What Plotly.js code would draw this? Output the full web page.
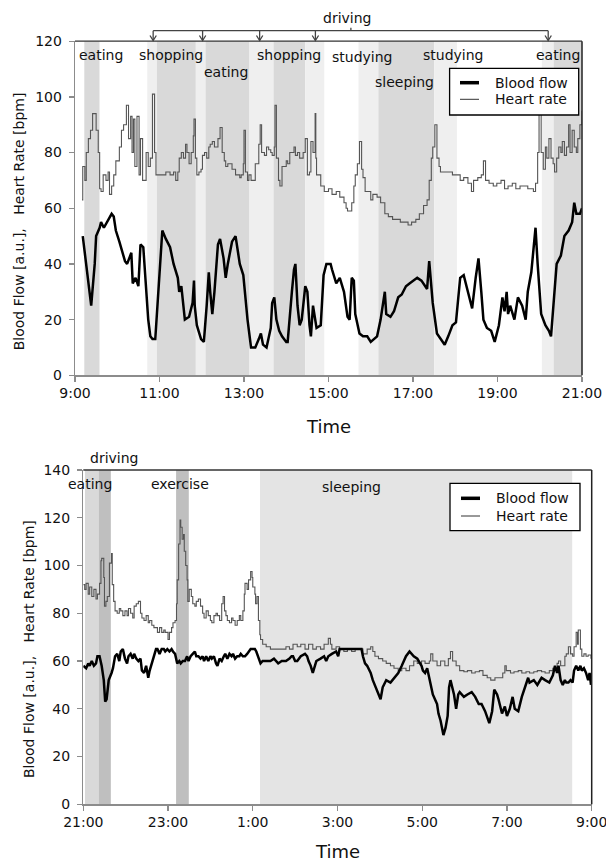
<!DOCTYPE html>
<html><head><meta charset="utf-8">
<script src="https://cdn.plot.ly/plotly-3.0.1.min.js"></script>
<style>html,body{margin:0;padding:0;background:#fff}#chart{width:606px;height:863px}</style>
</head><body><div id="chart"></div>
<script>
// ---------- DATA ----------
// Top chart (day, 9:00-21:00): minutes after 9:00
const bfTopMin = [11,23,28,30,35,37,41,47,52,55,58,63,68,71,74,80,82,86,90,93,97,101,104,107,110,114,118,124,129,135,140,146,148,151,156,162,167,169,170,173,179,183,187,190,192,195,198,203,206,211,214,217,223,228,231,234,239,245,250,256,261,264,267,272,278,280,283,286,290,294,300,302,308,311,313,316,319,322,327,330,333,335,338,341,343,349,353,357,363,365,371,376,382,387,390,393,396,398,404,409,415,420,429,434,440,442,448,453,459,464,470,475,481,486,492,497,500,503,506,508,514,519,525,530,536,541,547,552,558,561,564,569,573,577,580,585,591,596,602,607,610,613,615,618,624,629,635,640,643,648,654,657,662,668,673,676,679,684,690,695,701,706,709,712,717,720];
const bfTopVal = [50,25,40,50,53,55,53,56,58,57,52,48,44,41,40,44,33,35,32,47,46,30,20,14,13,13,30,52,49,46,40,35,30,32,20,21,26,34,25,18,13,12,25,37,30,22,30,47,49,42,35,40,48,50,45,40,36,20,10,10,13,15,11,10,17,26,28,20,16,14,12,12,30,38,40,25,18,20,32,30,18,14,25,20,17,18,36,40,40,38,33,35,30,21,20,35,34,22,15,14,14,12,14,20,30,22,21,23,28,29,32,33,34,35,34,32,31,41,30,26,15,13,11,14,18,19,35,36,30,26,24,35,42,30,20,17,16,12,18,28,23,30,22,25,20,28,25,20,30,37,53,40,22,18,16,14,25,40,43,50,52,55,62,58,58,60];
const hrTopMin = [10,11,14,16,19,22,25,27,30,33,35,37,40,44,47,49,52,55,58,63,66,69,73,76,79,81,83,85,88,91,93,96,101,104,107,110,113,115,118,124,129,135,140,143,146,148,151,154,157,159,162,165,168,169,171,173,176,179,181,184,187,190,192,195,198,201,203,206,209,212,214,217,223,228,234,236,239,240,242,245,247,250,256,261,263,265,269,272,275,278,280,283,284,286,289,291,294,300,302,305,308,311,313,316,319,324,327,330,333,335,338,341,342,343,349,354,360,365,371,376,382,385,387,390,393,396,398,401,404,407,409,412,415,420,423,429,434,440,445,451,456,462,467,473,478,484,489,495,500,503,506,508,511,514,517,519,525,530,536,541,547,552,558,563,566,572,577,580,583,588,594,599,605,610,615,621,626,632,637,643,648,651,654,657,659,662,665,668,670,673,676,679,681,684,687,690,692,695,698,701,703,706,709,712,714,717,720];
const hrTopVal = [63,75,70,80,85,88,94,94,88,80,67,66,72,70,73,65,68,72,77,82,88,90,97,85,93,80,92,75,93,72,85,70,80,75,78,101,80,72,72,72,73,72,73,70,73,78,80,78,83,80,76,80,86,92,78,72,73,74,79,80,78,82,83,84,82,82,85,89,80,77,75,76,74,72,71,72,76,88,73,70,72,70,76,83,90,80,79,82,81,80,79,82,97,78,70,68,75,77,76,80,80,82,79,80,78,80,85,72,73,84,80,94,78,72,68,66,67,65,66,64,62,60,59,59,62,68,72,76,84,74,71,66,66,63,65,64,62,58,57,56,56,55,55,54,55,56,58,61,63,70,78,82,90,78,75,73,73,73,72,72,70,71,69,66,70,71,72,77,70,69,68,69,70,67,68,69,67,68,68,67,67,66,69,80,96,80,74,82,78,85,78,76,73,78,82,80,84,79,82,90,80,88,82,80,85,90,95];

// Bottom chart (night, 21:00-9:00): minutes after 21:00
const bfBotMin = [0,4,7,9,12,15,18,20,23,26,29,31,33,36,40,42,45,48,51,53,56,59,62,64,67,70,72,75,78,81,83,86,89,92,94,97,100,103,105,108,111,114,116,119,122,125,127,130,133,136,138,141,144,147,149,152,155,158,160,163,166,169,171,174,177,180,182,185,188,190,193,196,199,201,204,207,210,212,215,218,221,223,226,229,232,234,237,240,243,245,248,251,254,259,265,270,276,281,287,292,295,297,300,303,308,314,317,319,322,325,328,330,336,341,344,347,352,358,361,363,369,374,380,385,391,394,396,399,402,405,407,410,413,415,421,424,429,435,440,446,451,457,462,468,473,479,481,484,487,490,492,495,498,501,503,506,510,513,516,518,520,523,525,528,531,533,539,544,550,555,560,564,569,575,579,582,586,588,593,597,600,604,608,611,616,621,627,630,632,638,643,649,654,660,665,668,671,673,676,679,682,684,687,690,693,695,698,701,704,706,709,712,715,717,719];
const bfBotVal = [58,57,59,58,60,58,59,62,62,58,52,43,44,52,55,57,62,63,60,64,65,61,59,62,63,61,63,61,60,61,56,55,58,53,56,59,62,65,65,63,65,65,64,65,64,65,64,63,59,60,59,60,60,62,60,62,63,64,62,62,61,62,60,62,60,62,61,62,59,58,61,60,62,63,61,63,62,63,61,62,62,63,62,62,63,64,65,65,65,64,61,59,60,60,60,61,59,60,60,61,62,62,60,60,62,63,62,60,58,55,58,60,61,62,60,62,63,64,62,65,65,65,65,65,65,65,62,59,58,56,55,52,50,48,44,49,52,51,53,55,58,62,64,62,61,58,56,55,57,53,50,46,44,42,38,35,29,32,37,49,52,48,46,40,46,47,45,46,47,45,42,42,39,34,39,48,46,44,38,41,37,40,45,40,39,45,51,53,51,52,50,53,52,51,54,58,55,58,52,50,52,51,51,52,51,56,58,56,58,56,57,55,52,55,50];
const hrBotMin = [0,2,4,7,9,12,15,18,20,23,25,26,29,30,32,34,37,40,41,43,45,48,51,53,56,59,62,64,67,70,72,75,78,81,83,86,89,92,94,97,100,103,105,108,111,114,116,120,122,125,127,130,132,133,135,137,138,140,142,143,145,147,148,150,153,155,158,160,163,166,169,171,174,177,180,182,185,188,190,193,196,198,200,202,204,207,210,212,215,218,221,223,226,228,229,232,234,237,239,240,243,244,246,248,250,251,254,259,265,270,276,281,287,292,297,303,308,314,319,325,330,336,341,347,350,352,358,363,369,374,380,385,391,396,402,407,410,413,418,424,429,435,440,446,451,457,462,468,473,479,484,490,492,495,501,506,512,517,520,523,528,533,539,544,550,555,561,566,572,577,583,588,594,597,599,605,610,616,621,627,632,638,643,649,654,660,665,671,673,676,679,682,684,687,690,693,695,698,700,701,704,706,709,712,715,719];
const hrBotVal = [92,90,92.5,88,91,87,90,86,88,92.5,102,103,95,83,85,87,101,105,92,85,81,80,82,81,79,81,79,82,80,78,83,84,85,80,78,77,79,76,77,75,74,74,72,74,72,73,72,69,72,74,76,77,84,94,109,119,116,111,113,106,100,94,85,90,87,84,83,85,86,83,80,78,81,79,77,76,79,80,79,77,84,87,81,79,77,76,78,77,75,77,79,77,81,88,92.5,90,94,97.5,95,91,88,84,87,77,71,69,67,66,65,65,65,65,66,65,67,66,67,65,67,65,66,65,67,69.5,67,65,66,65,64,65,64,65,65,63,65,66,64,62,61,60,59,58,57,56,57,56,58,60,59,60,59,60,63,60,58,60,58,61,64,60,58,56,55.5,56,55,55.5,56,54,53,52,53,53,55,58,56,55,55.5,56,55,55.5,55,55.5,56,55.5,55,56,57,59,60,58,58,62,63,66,63,62,66,72,67,73,65,62,63,62,62.5,61];

// Activity periods (hours of clock; night hours continue past 24)
const topPeriodStart = [9.22, 10.71, 10.94, 11.86, 12.09, 13.13, 13.70, 14.45, 15.71, 16.18, 17.50, 20.05, 20.33];
const topPeriodEnd   = [9.58, 10.94, 11.86, 12.09, 13.13, 13.70, 14.45, 14.90, 16.18, 17.50, 18.04, 20.33, 21.00];
const topPeriodTone  = ['dark','light','dark','light','dark','light','dark','light','light','dark','light','light','dark'];
const topActLabels = ['eating','shopping','eating','shopping','studying','sleeping','studying','eating'];
const topActTimes  = [9.62, 11.27, 12.58, 14.06, 15.80, 16.80, 17.94, 20.42];
const drivingTimes = [10.85, 12.02, 13.37, 14.69, 20.20];

const botPeriodStart = [21.04, 21.37, 23.19, 25.17];
const botPeriodEnd   = [21.37, 21.65, 23.49, 32.54];
const botPeriodTone  = ['mid','dark','dark','pale'];
const botActLabels = ['driving','eating','exercise','sleeping'];
const botActTimes  = [21.72, 21.15, 23.28, 27.32];

const topTickVals = [9,11,13,15,17,19,21];
const topTickText = ['9:00','11:00','13:00','15:00','17:00','19:00','21:00'];
const botTickVals = [21,23,25,27,29,31,33];
const botTickText = ['21:00','23:00','1:00','3:00','5:00','7:00','9:00'];

// ---------- LAYOUT ----------
const W = 606, H = 863;
const PY = v => 1 - v / H;
const PX = v => v / W;
const FONT = 'DejaVu Sans';
const toneColor = {dark:'#d9d9d9', light:'#efefef', mid:'#d9d9d9', pale:'#e4e4e4'};
const toneColorBot = {dark:'#bfbfbf', mid:'#d9d9d9', pale:'#e4e4e4'};

const hrLine = {color:'#555', width:1.1, shape:'hv'};
const traces = [
  {x: hrTopMin.map(m => 9 + m/60), y: hrTopVal, xaxis:'x', yaxis:'y', type:'scatter', mode:'lines',
   line:hrLine, name:'Heart rate', showlegend:false},
  {x: bfTopMin.map(m => 9 + m/60), y: bfTopVal, xaxis:'x', yaxis:'y', type:'scatter', mode:'lines',
   line:{color:'#000', width:2.5}, name:'Blood flow', showlegend:false},
  {x: hrBotMin.map(m => 21 + m/60), y: hrBotVal, xaxis:'x2', yaxis:'y2', type:'scatter', mode:'lines',
   line:hrLine, name:'Heart rate', showlegend:false},
  {x: bfBotMin.map(m => 21 + m/60), y: bfBotVal, xaxis:'x2', yaxis:'y2', type:'scatter', mode:'lines',
   line:{color:'#000', width:2.5}, name:'Blood flow', showlegend:false}
];

const shapes = [];
const annotations = [];
topPeriodStart.forEach((s, i) => shapes.push({type:'rect', xref:'x', yref:'y domain', x0:s, x1:topPeriodEnd[i], y0:0, y1:1,
  fillcolor: toneColor[topPeriodTone[i]], line:{width:0}, layer:'below'}));
botPeriodStart.forEach((s, i) => shapes.push({type:'rect', xref:'x2', yref:'y2 domain', x0:s, x1:botPeriodEnd[i], y0:0, y1:1,
  fillcolor: toneColorBot[botPeriodTone[i]], line:{width:0}, layer:'below'}));
// top & right frame
[['x','y'],['x2','y2']].forEach(([xa, ya]) => {
  shapes.push({type:'line', xref:xa+' domain', yref:ya+' domain', x0:0, x1:1, y0:1, y1:1, line:{color:'#333', width:1.3}});
  shapes.push({type:'line', xref:xa+' domain', yref:ya+' domain', x0:1, x1:1, y0:0, y1:1, line:{color:'#222', width:1.5}});
});
// driving bracket
const brY = 30.7, arY = 40.5, brC = '#444';
shapes.push({type:'line', xref:'x', yref:'paper', x0:drivingTimes[0], x1:drivingTimes[drivingTimes.length-1], y0:PY(brY), y1:PY(brY), line:{color:brC, width:1.3}});
shapes.push({type:'line', xref:'x', yref:'paper', x0:15.53, x1:15.53, y0:PY(brY), y1:PY(brY-3), line:{color:brC, width:1.3}});
drivingTimes.forEach(t => {
  shapes.push({type:'line', xref:'x', yref:'paper', x0:t, x1:t, y0:PY(brY), y1:PY(arY), line:{color:brC, width:1.3}});
  shapes.push({type:'path', xref:'x', yref:'paper', path:`M ${t-0.075},${PY(arY-5)} L ${t},${PY(arY)} L ${t+0.075},${PY(arY-5)}`, line:{color:brC, width:1.3}});
});
// manual legends
function legend(x0, x1, y0, y1, yA, yB, xl0, xl1, xt) {
  shapes.push({type:'rect', xref:'paper', yref:'paper', x0:PX(x0), x1:PX(x1), y0:PY(y1), y1:PY(y0), fillcolor:'#fff', line:{color:'#000', width:1.3}, layer:'above'});
  shapes.push({type:'line', xref:'paper', yref:'paper', x0:PX(xl0), x1:PX(xl1), y0:PY(yA), y1:PY(yA), line:{color:'#000', width:3.5}, layer:'above'});
  shapes.push({type:'line', xref:'paper', yref:'paper', x0:PX(xl0), x1:PX(xl1), y0:PY(yB), y1:PY(yB), line:{color:'#333', width:1}, layer:'above'});
  annotations.push({xref:'paper', yref:'paper', x:PX(xt), y:PY(yA), xanchor:'left', yanchor:'middle', text:'Blood flow', showarrow:false, font:{family:FONT, size:14, color:'#111'}});
  annotations.push({xref:'paper', yref:'paper', x:PX(xt), y:PY(yB), xanchor:'left', yanchor:'middle', text:'Heart rate', showarrow:false, font:{family:FONT, size:14, color:'#111'}});
}

const annFont = {family:FONT, size:14, color:'#111'};
const topLabelRows = [55, 55, 71.7, 55, 57.3, 81.7, 55, 55];
topActLabels.forEach((t, i) => annotations.push({xref:'x', yref:'paper', x:topActTimes[i], y:PY(topLabelRows[i]),
  xanchor:'center', yanchor:'middle', text:t, showarrow:false, font:annFont}));
annotations.push({xref:'x', yref:'paper', x:15.44, y:PY(18), xanchor:'center', yanchor:'middle', text:'driving', showarrow:false, font:annFont});
const botLabelRows = [458.3, 484.3, 484, 486.7];
botActLabels.forEach((t, i) => annotations.push({xref:'x2', yref:'paper', x:botActTimes[i], y:PY(botLabelRows[i]),
  xanchor:'center', yanchor:'middle', text:t, showarrow:false, font:annFont}));
legend(449.6, 578.7, 68.3, 115, 82.7, 99.3, 460, 479, 492.8);
legend(450, 580, 483.3, 530.7, 498.3, 516, 461, 480, 493.5);
// axis titles
const yTitle = 'Blood Flow [a.u.],\u00a0\u00a0 Heart Rate [bpm]';
annotations.push({xref:'paper', yref:'paper', x:PX(19.3), y:PY(221), xanchor:'center', yanchor:'middle', textangle:-90, text:yTitle, showarrow:false, font:{family:FONT, size:14, color:'#111'}});
annotations.push({xref:'paper', yref:'paper', x:PX(29), y:PY(649), xanchor:'center', yanchor:'middle', textangle:-90, text:yTitle, showarrow:false, font:{family:FONT, size:14, color:'#111'}});
annotations.push({xref:'x domain', yref:'paper', x:0.5, y:PY(426), xanchor:'center', yanchor:'middle', text:'Time', showarrow:false, font:{family:FONT, size:18, color:'#111'}});
annotations.push({xref:'x2 domain', yref:'paper', x:0.5, y:PY(851), xanchor:'center', yanchor:'middle', text:'Time', showarrow:false, font:{family:FONT, size:18, color:'#111'}, borderpad:0});

const axBase = {showgrid:false, zeroline:false, showline:true, linecolor:'#8c8c8c', linewidth:1.3,
  ticks:'outside', ticklen:5, tickcolor:'#8c8c8c', tickwidth:1.3, tickfont:{family:FONT, size:14, color:'#111'},
  fixedrange:true, ticklabeloverflow:'allow'};

const layout = {
  width:W, height:H, margin:{l:0, r:0, t:0, b:0}, paper_bgcolor:'#fff', plot_bgcolor:'#fff', showlegend:false,
  xaxis: Object.assign({}, axBase, {domain:[PX(75), PX(582)], range:[9, 21], tickmode:'array', tickvals:topTickVals, ticktext:topTickText, anchor:'y'}),
  yaxis: Object.assign({}, axBase, {domain:[PY(375.3), PY(41.2)], range:[0, 120], dtick:20, tick0:0, anchor:'x', ticklabelstandoff:4}),
  xaxis2: Object.assign({}, axBase, {domain:[PX(83.3), PX(591.7)], range:[21, 33], tickmode:'array', tickvals:botTickVals, ticktext:botTickText, anchor:'y2'}),
  yaxis2: Object.assign({}, axBase, {domain:[PY(804.3), PY(470)], range:[0, 140], dtick:20, tick0:0, anchor:'x2', ticklabelstandoff:4}),
  shapes: shapes, annotations: annotations
};

Plotly.newPlot('chart', traces, layout, {staticPlot:true, displayModeBar:false});
</script></body></html>
